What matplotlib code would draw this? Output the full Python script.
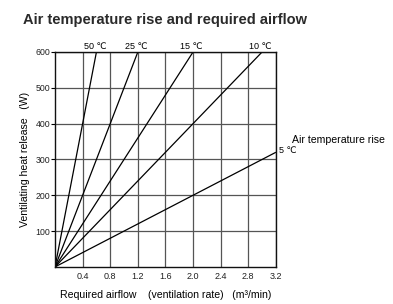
import matplotlib
matplotlib.use("Agg")
import matplotlib.pyplot as plt

plt.rcParams['font.family'] = ['Liberation Sans', 'DejaVu Sans']

temps = [50, 25, 15, 10, 5]
end_airflow = [0.6, 1.2, 2.0, 3.0, 3.2]
end_heat = [600, 600, 600, 600, 320]
x_ticks = [0.4, 0.8, 1.2, 1.6, 2.0, 2.4, 2.8, 3.2]
y_ticks = [100, 200, 300, 400, 500, 600]

fig = plt.figure(figsize=(3.93, 3.04), dpi=100)
ax = fig.add_axes([0.140, 0.122, 0.562, 0.707])

ax.set_xlim(0, 3.2)
ax.set_ylim(0, 600)
ax.set_xticks(x_ticks)
ax.set_yticks(y_ticks)
ax.set_xticklabels([f"{v:.1f}" for v in x_ticks], fontsize=6.5, color='#222222')
ax.set_yticklabels([str(v) for v in y_ticks], fontsize=6.3, color='#222222')
ax.tick_params(axis='x', length=0, pad=4)
ax.tick_params(axis='y', length=3, width=0.8, pad=0.5)
ax.grid(True, color='#555555', linewidth=0.9)
ax.set_axisbelow(True)
for s in ax.spines.values():
    s.set_linewidth(1.0)
    s.set_color('#111111')

for t, xe, ye in zip(temps, end_airflow, end_heat):
    ax.plot([0, xe], [0, ye], color='black', linewidth=0.9, solid_capstyle='butt')
    if ye >= 600:
        ax.text(xe - 0.02, 603, f"{t} ℃", ha='center', va='bottom', fontsize=6.5)
    else:
        ax.text(xe + 0.04, ye + 4, f"{t} ℃", ha='left', va='center', fontsize=6.5)

ax.text(3.44, 355, "Air temperature rise", ha='left', va='center', fontsize=7.6)

ax.set_xlabel("Required airflow    (ventilation rate)   (m³/min)", fontsize=7.6, labelpad=6)
ax.set_ylabel("Ventilating heat release   (W)", fontsize=7.6, labelpad=4)

fig.text(0.058, 0.934, "Air temperature rise and required airflow", fontsize=10.5,
         fontweight='bold', ha='left', va='center', color='#2a2a2a')

fig.savefig("out.png", dpi=100)
